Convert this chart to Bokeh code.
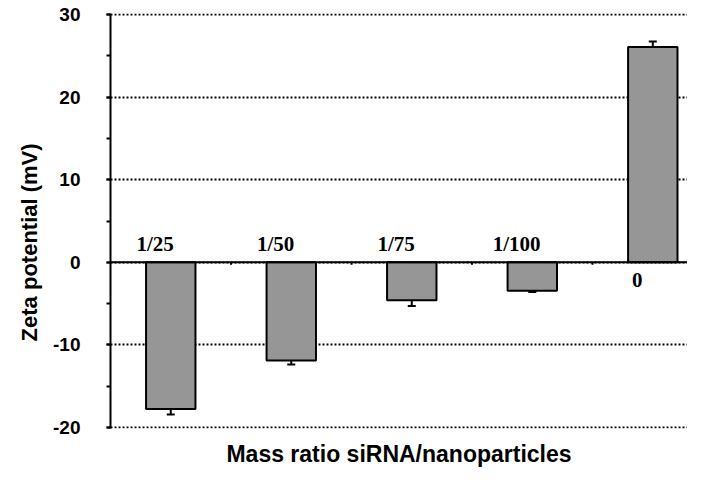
from bokeh.plotting import figure
from bokeh.models import (Range1d, SingleIntervalTicker, FixedTicker, Span, Whisker,
                          TeeHead, ColumnDataSource)
from bokeh.core.properties import value
from bokeh.embed import file_html
from bokeh.resources import INLINE

categories = ["1/25", "1/50", "1/75", "1/100", "0"]
zeta = [-17.8, -11.9, -4.6, -3.45, 26.1]
zeta_err = [0.65, 0.5, 0.7, 0.15, 0.65]
y_ticks = [-20, -10, 0, 10, 20, 30]
y_tick_labels = {t: str(t) for t in y_ticks}
y_title = "Zeta potential (mV)"
x_title = "Mass ratio siRNA/nanoparticles"

x = [i + 0.5 for i in range(len(categories))]
src = ColumnDataSource(dict(
    x=x, top=zeta,
    upper=[v + e for v, e in zip(zeta, zeta_err)],
    lower=[v - e for v, e in zip(zeta, zeta_err)],
))

p = figure(width=687, height=469, output_backend="svg", toolbar_location=None,
           x_range=Range1d(0, 4.788), y_range=Range1d(-20.15, 30.15),
           min_border_left=110, min_border_right=0, min_border_top=13,
           min_border_bottom=40)
p.outline_line_color = None
p.xgrid.visible = False

# y axis
ya = p.yaxis[0]
ya.ticker = SingleIntervalTicker(interval=10, num_minor_ticks=2)
ya.major_label_overrides = y_tick_labels
ya.axis_line_width = 2
ya.major_tick_line_width = 2
ya.minor_tick_line_width = 2
ya.major_tick_in = 0
ya.major_tick_out = 4
ya.minor_tick_in = 0
ya.minor_tick_out = 4
ya.major_label_standoff = 26
ya.major_label_text_font = "Liberation Sans"
ya.major_label_text_font_style = "bold"
ya.major_label_text_font_size = "19px"
ya.major_label_text_color = "black"
# trailing no-break spaces push the title a little below the frame centre
ya.axis_label = y_title + "\u00a0" * 7
ya.axis_label_text_font = "Liberation Sans"
ya.axis_label_text_font_style = "bold"
ya.axis_label_text_font_size = "22px"
ya.axis_label_text_color = "black"
ya.axis_label_standoff = 8

# y grid dotted
p.ygrid.ticker = FixedTicker(ticks=y_ticks)
p.ygrid.grid_line_color = "black"
p.ygrid.grid_line_width = 2
p.ygrid.grid_line_dash = "2 2"

# x axis: only the label
xa = p.xaxis[0]
xa.ticker = FixedTicker(ticks=[])
xa.axis_line_color = None
xa.major_tick_line_color = None
xa.minor_tick_line_color = None
xa.major_tick_out = 0
xa.major_label_standoff = 0
xa.axis_label = x_title
xa.axis_label_text_font = "Liberation Sans"
xa.axis_label_text_font_style = "bold"
xa.axis_label_text_font_size = "23px"
xa.axis_label_text_color = "black"
xa.axis_label_standoff = 12

# bars
p.vbar(x="x", top="top", bottom=0, width=0.41, source=src,
       fill_color="#969696", line_color="black", line_width=2)

# zero line
p.add_layout(Span(location=0, dimension="width", line_color="black", line_width=2))
# small ticks on zero line at category boundaries
bounds = list(range(1, len(categories)))
p.segment(x0=bounds, y0=[0] * len(bounds), x1=bounds, y1=[-0.3] * len(bounds),
          line_color="black", line_width=2)

# error bars
p.add_layout(Whisker(source=src, base="x", upper="upper", lower="lower",
                     line_color="black", line_width=2,
                     upper_head=TeeHead(size=8, line_width=2, line_color="black"),
                     lower_head=TeeHead(size=8, line_width=2, line_color="black")))

# category labels
lab_x = [xi - 0.13 for xi in x]
lab_y = [2.2 if v < 0 else -2.1 for v in zeta]
p.text(x=lab_x, y=lab_y, text=categories, text_align="center",
       text_baseline="alphabetic", text_font=value("Liberation Serif"),
       text_font_style="bold", text_font_size="21px", text_color="black")

open("out.html", "w").write(file_html(p, INLINE))
